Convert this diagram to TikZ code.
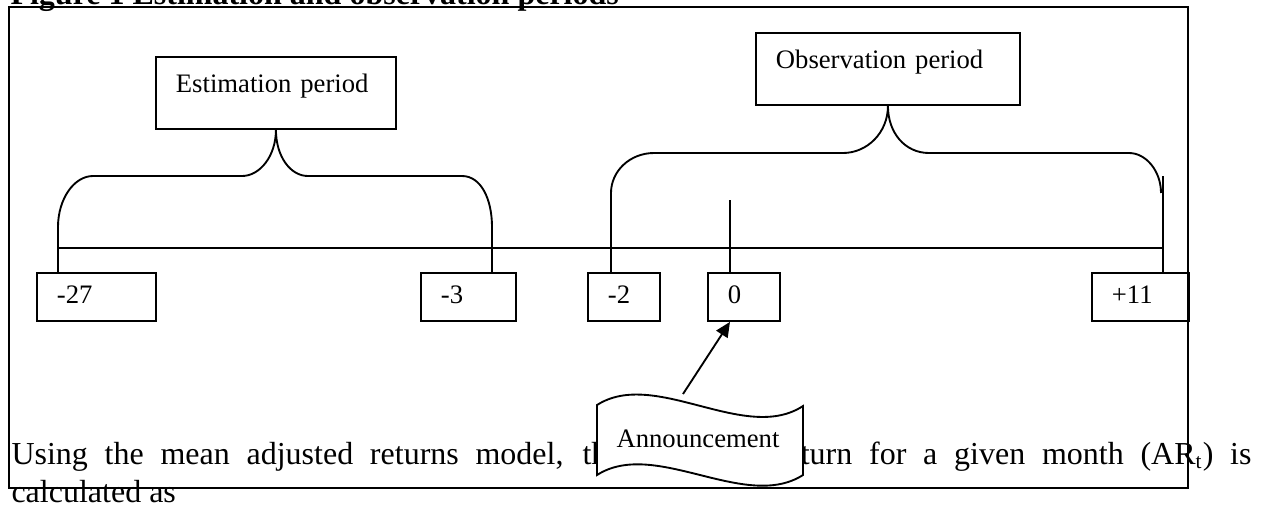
\documentclass[tikz,border=0pt]{standalone}
\usepackage{fontspec}
\setmainfont{Liberation Serif}
\usetikzlibrary{arrows.meta}
\begin{document}
\begin{tikzpicture}[x=0.375pt,y=-0.375pt,
  ln/.style={line width=0.7pt},
  lbl/.style={draw,line width=0.7pt,anchor=north west,inner ysep=0pt,inner xsep=7.5pt,
    align=left,font=\fontsize{10}{12}\selectfont},
  period/.style={lbl,text height=13.5pt,text depth=13.5pt},
  numbox/.style={lbl,text height=11.625pt,text depth=6.375pt}]
\useasboundingbox (0,0) rectangle (1270,508);
% title and paragraph
\node[anchor=base west,inner sep=0pt,font=\bfseries\fontsize{12}{14}\selectfont] (title) at (10,4)
  {Figure 1 Estimation and observation periods};
\node[anchor=base west,inner sep=0pt,font=\fontsize{12}{14.6}\selectfont] (para) at (11,464)
  {\parbox[t]{465pt}{\makebox[465pt][s]{Using the mean adjusted returns model, the abnormal return for a given month (AR\textsubscript{t}) is}\\calculated as}};
% frame
\draw[line width=1pt] (9,7) rectangle (1188,488);
% period boxes
\node[period,text width=75pt] (est) at (155,56) {Estimation period};
\node[period,text width=84pt] (obs) at (755,32) {Observation period};
% number boxes
\node[numbox,text width=29.625pt] (m27) at (36,272) {-27};
\node[numbox,text width=20.625pt] (m3) at (420,272) {-3};
\node[numbox,text width=12pt] (m2) at (587,272) {-2};
\node[numbox,text width=12pt] (z0) at (707,272) {0};
\node[numbox,text width=21.375pt] (p11) at (1091,272) {+11};
% coordinates
\coordinate (eL) at (58,227);
\coordinate (eR) at (492,227);
\coordinate (oL) at (611,193);
\coordinate (oR) at (1161,193);
\coordinate (pT) at (1163,176);
\coordinate (zT) at (730,200);
\coordinate (tlA) at (58,248);
\coordinate (tlB) at (1163,248);
% timeline
\draw[ln] (tlA) -- (tlB);
% estimation brace
\draw[ln] (m27.north -| eL) -- (eL) .. controls +(0,-28) and +(-19,0) .. (93,176) -- (242,176)
  .. controls +(18,0) and +(0,26) .. (est.south)
  .. controls +(0,26) and +(-18,0) .. (308,176) -- (462,176)
  .. controls +(19,0) and +(0,-28) .. (eR) -- (m3.north -| eR);
% observation brace
\draw[ln] (m2.north -| oL) -- (oL) .. controls +(0,-22) and +(-24,0) .. (654,153) -- (843,153)
  .. controls +(24,0) and +(0,27) .. (obs.south)
  .. controls +(0,27) and +(-24,0) .. (929,153) -- (1129,153)
  .. controls +(17,0) and +(0,-22) .. (oR);
\draw[ln] (pT) -- (pT |- p11.north);
\draw[ln] (zT) -- (zT |- z0.north);
% announcement tape
\draw[ln,fill=white] (597,405) .. controls (655,368) and (745,444) .. (803,406) -- (803,475)
  .. controls (745,512) and (655,438) .. (597,475) -- cycle;
\node[inner sep=0pt,anchor=base,font=\fontsize{10}{12}\selectfont] (ann) at (698,447) {Announcement};
\coordinate (annTop) at (683,394);
\draw[ln,-{Triangle[length=5.6pt,width=5pt]}] (annTop) -- (zT |- z0.south);
\end{tikzpicture}
\end{document}
